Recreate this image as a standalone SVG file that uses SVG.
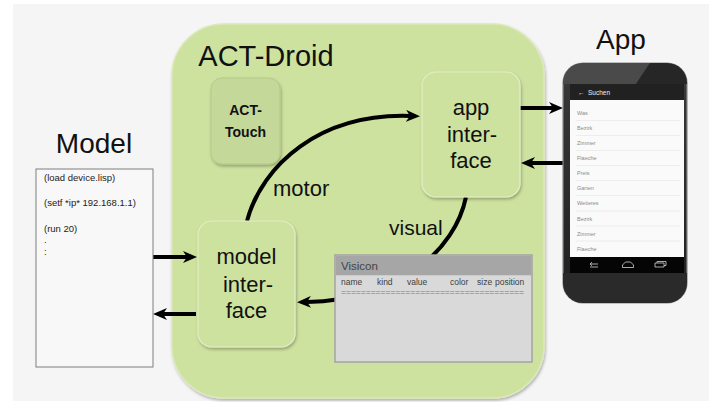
<svg xmlns="http://www.w3.org/2000/svg" width="709" height="402" viewBox="0 0 709 402">
  <style>
    text { font-family: "Liberation Sans", Arial, sans-serif; fill: #111; }
    .title { font-size: 28px; text-anchor: middle; }
    .iface { font-size: 22px; text-anchor: middle; }
    .lbl { font-size: 21px; }
    .code { font-size: 9.5px; fill: #222; }
    .col { font-size: 8.5px; fill: #404040; }
    .item { font-size: 5.5px; fill: #8a8a8a; }
    .wire { fill: none; stroke: #000; stroke-width: 4; marker-end: url(#head); }
    .node { fill: #cde29f; stroke: #e3eec6; stroke-width: 1.2; filter: url(#shadow); }
    .sep { stroke: #e4e4e4; stroke-width: 0.6; }
    .nav { fill: none; stroke: #bdbdbd; stroke-width: 0.9; }
  </style>
  <defs>
    <marker id="head" markerUnits="userSpaceOnUse" markerWidth="14" markerHeight="12" viewBox="0 0 14 12" refX="4" refY="6" orient="auto">
      <path d="M0,0 L14,6 L0,12 L4,6 z" fill="#000"/>
    </marker>
    <filter id="shadow" x="-10%" y="-10%" width="130%" height="130%">
      <feDropShadow dx="1" dy="2" stdDeviation="1.5" flood-color="#000" flood-opacity="0.28"/>
    </filter>
    <linearGradient id="body" x1="0" y1="0" x2="0" y2="1">
      <stop offset="0" stop-color="#3a3a3a"/>
      <stop offset="1" stop-color="#1f1f1f"/>
    </linearGradient>
    <clipPath id="phoneClip">
      <rect x="563" y="63" width="124" height="240" rx="20"/>
    </clipPath>
  </defs>

  <!-- page background -->
  <rect x="13" y="4" width="696" height="397" fill="#f5f5f5"/>

  <!-- ACT-Droid container -->
  <g id="act-droid">
    <rect x="172" y="24" width="372" height="374" rx="52" fill="#cde29f" stroke="#dbe9b8" stroke-width="1.5" filter="url(#shadow)"/>
    <text class="title" x="266" y="66" style="font-size:29px">ACT-Droid</text>
  </g>

  <!-- connectors -->
  <g id="connectors">
    <path class="wire" d="M150,257 L187,257"/>
    <path class="wire" d="M196,314 L163,314"/>
    <path class="wire" d="M520,108 L553,108"/>
    <path class="wire" d="M566,163 L531,163"/>
    <path class="wire" d="M247,221 C262,165 320,113 410,116"/>
    <path class="wire" d="M466,197 C455,250 400,300 307,302"/>
    <text class="lbl" x="273" y="196" style="font-size:22px">motor</text>
    <text class="lbl" x="389" y="235">visual</text>
  </g>

  <!-- ACT-Touch -->
  <g id="act-touch">
    <rect x="211" y="78" width="69" height="86" rx="11" fill="#c4d89a" stroke="#b4c98a" stroke-width="1" filter="url(#shadow)"/>
    <text x="245.5" y="115" text-anchor="middle" style="font-size:14px;font-weight:bold">ACT-</text>
    <text x="245.5" y="137" text-anchor="middle" style="font-size:14px;font-weight:bold">Touch</text>
  </g>

  <!-- model interface -->
  <g id="model-interface">
    <rect class="node" x="198" y="221" width="97" height="126" rx="14"/>
    <text class="iface" x="246.5" y="264">model</text>
    <text class="iface" x="248" y="292">inter-</text>
    <text class="iface" x="246.5" y="318">face</text>
  </g>

  <!-- app interface -->
  <g id="app-interface">
    <rect class="node" x="422" y="72" width="98" height="125" rx="14"/>
    <text class="iface" x="471" y="115">app</text>
    <text class="iface" x="472" y="142">inter-</text>
    <text class="iface" x="471" y="168">face</text>
  </g>

  <!-- Visicon table -->
  <g id="visicon">
    <rect x="335" y="255" width="197" height="107" fill="#d9d9d9" stroke="#a3a3a3" stroke-width="1.5"/>
    <rect x="335.75" y="255.75" width="195.5" height="19.5" fill="#a6a6a6"/>
    <text x="341" y="270" style="font-size:11.5px;fill:#444">Visicon</text>
    <text class="col" x="341" y="285">name</text>
    <text class="col" x="377" y="285">kind</text>
    <text class="col" x="407" y="285">value</text>
    <text class="col" x="450" y="285">color</text>
    <text class="col" x="477" y="285">size</text>
    <text class="col" x="495" y="285">position</text>
    <text class="col" x="341" y="295" textLength="183" lengthAdjust="spacingAndGlyphs" style="fill:#7a7a7a">=====================================</text>
  </g>

  <!-- Model -->
  <g id="model">
    <text class="title" x="94" y="153">Model</text>
    <rect x="36" y="169" width="117" height="198" fill="#f8f8f8" stroke="#7f7f7f" stroke-width="1"/>
    <text class="code" x="44" y="181">(load device.lisp)</text>
    <text class="code" x="44" y="206">(setf *ip* 192.168.1.1)</text>
    <text class="code" x="44" y="232">(run 20)</text>
    <text class="code" x="44" y="243">.</text>
    <text class="code" x="44" y="255">:</text>
  </g>

  <!-- App (phone) -->
  <g id="app">
    <text class="title" x="621" y="49">App</text>
    <rect x="563" y="63" width="124" height="240" rx="20" fill="url(#body)" stroke="#8a8a8a" stroke-width="1.2"/>
    <g clip-path="url(#phoneClip)">
      <path d="M560,60 L652,60 L636,84 L560,84 z" fill="#4a4a4a"/>
      <path d="M652,60 L690,60 L690,84 L636,84 z" fill="#262626"/>
      <path d="M560,273 L690,273 L690,306 L560,306 z" fill="#2a2a2a"/>
    </g>
    <!-- status / title bar -->
    <rect x="570" y="84" width="114" height="16" fill="#212121"/>
    <text x="578" y="94.5" style="font-size:6.5px;fill:#eee">←</text>
    <text x="588" y="94.5" style="font-size:6.5px;fill:#eee">Suchen</text>
    <!-- list -->
    <rect x="570" y="100" width="114" height="157" fill="#fafafa"/>
    <line class="sep" x1="576" y1="120.5" x2="680" y2="120.5"/>
    <line class="sep" x1="576" y1="135.5" x2="680" y2="135.5"/>
    <line class="sep" x1="576" y1="150.5" x2="680" y2="150.5"/>
    <line class="sep" x1="576" y1="165.5" x2="680" y2="165.5"/>
    <line class="sep" x1="576" y1="180.5" x2="680" y2="180.5"/>
    <line class="sep" x1="576" y1="195.5" x2="680" y2="195.5"/>
    <line class="sep" x1="576" y1="211" x2="680" y2="211"/>
    <line class="sep" x1="576" y1="226" x2="680" y2="226"/>
    <line class="sep" x1="576" y1="241" x2="680" y2="241"/>
    <text class="item" x="577" y="114.5">Was</text>
    <text class="item" x="577" y="129.5">Bezirk</text>
    <text class="item" x="577" y="145">Zimmer</text>
    <text class="item" x="577" y="160">Flaeche</text>
    <text class="item" x="577" y="175">Preis</text>
    <text class="item" x="577" y="190">Garten</text>
    <text class="item" x="577" y="205">Weiteres</text>
    <text class="item" x="577" y="220.5">Bezirk</text>
    <text class="item" x="577" y="236">Zimmer</text>
    <text class="item" x="577" y="251">Flaeche</text>
    <!-- navigation bar -->
    <rect x="570" y="257" width="114" height="16" fill="#050505"/>
    <path class="nav" d="M598,264 h-8 M590,264 l2,-1.8 M590,264 l2,1.8 M590,267 h8"/>
    <path class="nav" d="M622.5,267.5 h11 v-2.5 l-3,-3 h-5 l-3,3 z"/>
    <path class="nav" d="M655,263 h9 v4 h-9 z M657,263 v-1.5 h9 v4 h-2"/>
  </g>
</svg>
